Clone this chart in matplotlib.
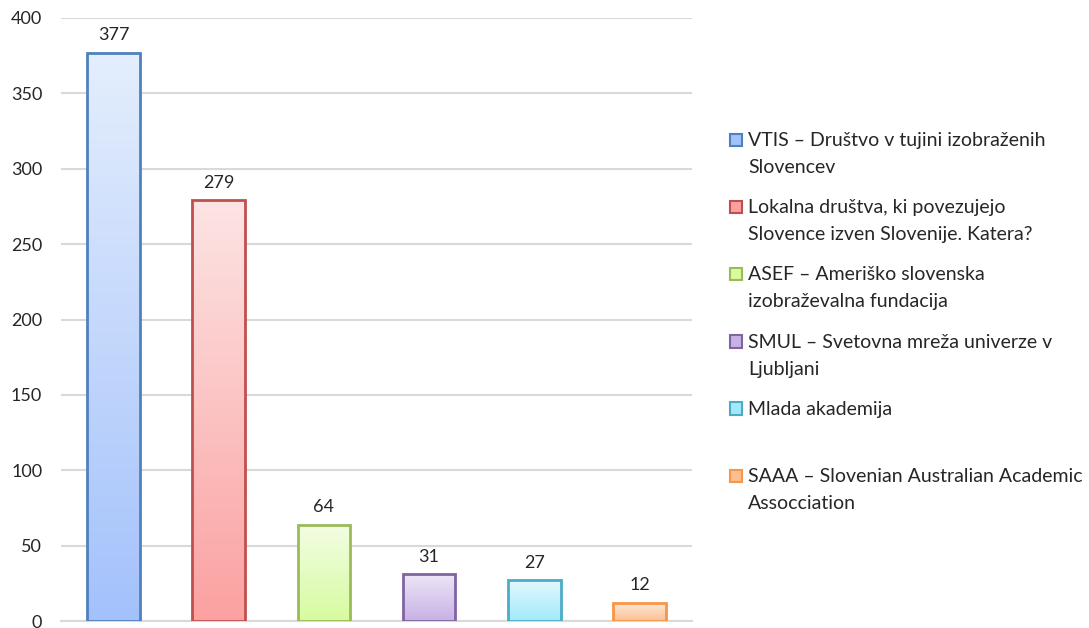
import numpy as np
import matplotlib.pyplot as plt
from matplotlib.patches import Rectangle

labels = [
    "VTIS \u2013 Društvo v tujini izobraženih\nSlovencev",
    "Lokalna društva, ki povezujejo\nSlovence izven Slovenije. Katera?",
    "ASEF \u2013 Ameriško slovenska\nizobraževalna fundacija",
    "SMUL \u2013 Svetovna mreža univerze v\nLjubljani",
    "Mlada akademija",
    "SAAA \u2013 Slovenian Australian Academic\nAssocciation",
]
values = [377, 279, 64, 31, 27, 12]
yticks = [0, 50, 100, 150, 200, 250, 300, 350, 400]

edge_colors = ["#4f81bd", "#c0504d", "#9bbb59", "#8064a2", "#4bacc6", "#f79646"]
top_colors = ["#e4eefd", "#fde4e4", "#f3fde4", "#ede6f6", "#e4f8fd", "#fdeadb"]
bottom_colors = ["#a3c1fb", "#fba1a1", "#d7fb9f", "#c7b1e6", "#a1eafb", "#fbbf93"]

plt.rcParams['font.family'] = ['Lato', 'DejaVu Sans']
text_color = "#262626"

fig = plt.figure(figsize=(10.89, 6.28), dpi=100)
ax = fig.add_axes([61 / 1089, 7 / 628, 631 / 1089, 603 / 628])

x = np.arange(len(values))
bars = ax.bar(x, values, width=0.5, facecolor="none", edgecolor="none", zorder=3)

def hex2rgb(h):
    h = h.lstrip("#")
    return np.array([int(h[i:i + 2], 16) / 255 for i in (0, 2, 4)])

# vertical gradient fill, clipped to each bar
for i, b in enumerate(bars):
    c0 = hex2rgb(top_colors[i])
    c1 = hex2rgb(bottom_colors[i])
    t = np.linspace(0, 1, 256)[:, None]
    grad = (c0[None, :] * (1 - t) + c1[None, :] * t)[:, None, :]
    x0 = b.get_x()
    w = b.get_width()
    h = b.get_height()
    im = ax.imshow(grad, extent=[x0, x0 + w, 0, h], aspect="auto",
                   origin="upper", zorder=3, interpolation="bilinear")
    im.set_clip_path(b)
    ax.add_patch(Rectangle((x0, 0), w, h, facecolor="none",
                           edgecolor=edge_colors[i], linewidth=2, zorder=4))
    ax.annotate(str(values[i]), (x[i], h), xytext=(0, 7), textcoords="offset points",
                ha="center", va="bottom", fontsize=13, color=text_color)

ax.set_xlim(-0.5, len(values) - 0.5)
ax.set_ylim(0, 400)
ax.set_yticks(yticks)
ax.set_yticklabels([str(v) for v in yticks], fontsize=13, color=text_color)
ax.set_xticks([])
ax.tick_params(axis="y", length=0, pad=13.5)
ax.grid(axis="y", color="#d9d9d9", linewidth=1.5, zorder=0)
ax.set_axisbelow(True)
for s in ["top", "right", "left"]:
    ax.spines[s].set_visible(False)
ax.spines["bottom"].set_color("#d9d9d9")
ax.spines["bottom"].set_linewidth(1.5)

# legend drawn by hand so the marker sits at the first line
base0 = 146
step = 67.2
for i, lab in enumerate(labels):
    yb = base0 + i * step
    fig.patches.append(Rectangle((730 / 1089, 1 - yb / 628), 12 / 1089, 12.5 / 628,
                                 transform=fig.transFigure, facecolor=bottom_colors[i],
                                 edgecolor=edge_colors[i], linewidth=1.5))
    for j, line in enumerate(lab.split("\n")):
        fig.text(748 / 1089, 1 - (yb + j * 27) / 628, line, fontsize=14,
                 color=text_color, va="baseline", ha="left")

fig.savefig("out.png", dpi=100, facecolor="white")
